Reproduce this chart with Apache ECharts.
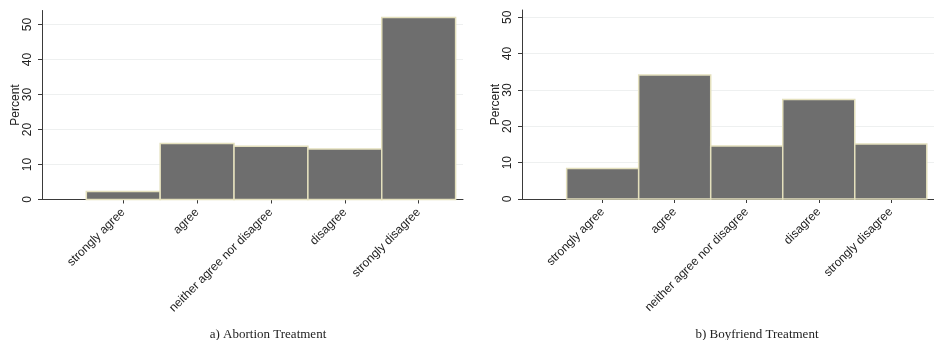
<!DOCTYPE html>
<html>
<head>
<meta charset="utf-8">
<script src="https://cdn.jsdelivr.net/npm/echarts@6/dist/echarts.min.js"></script>
<style>
  html, body { margin: 0; padding: 0; background: #fff; }
  #chart { width: 934px; height: 340px; }
</style>
</head>
<body>
<div id="chart"></div>
<script>
// answer categories, placed at x = 1..5
const categories = ['strongly agree', 'agree', 'neither agree nor disagree', 'disagree', 'strongly disagree'];
const catPos = [1, 2, 3, 4, 5];
// percent of respondents
const abortion = [2.3, 16.0, 15.2, 14.4, 52.0];
const boyfriend = [8.4, 34.1, 14.6, 27.4, 15.1];
const yTicks = [0, 10, 20, 30, 40, 50];
const panelTitles = ['a) Abortion Treatment', 'b) Boyfriend Treatment'];

const axisColor = '#3a3a3a';
const fillColor = '#6e6e6e';
const edgeColor = '#e4e0bd';

function barData(values) {
    return values.map((v, i) => [catPos[i], v]);
}

function renderBar(params, api) {
    const x = api.value(0), y = api.value(1);
    const p1 = api.coord([x - 0.5, y]);
    const p2 = api.coord([x + 0.5, 0]);
    return {
        type: 'rect',
        shape: { x: p1[0], y: p1[1], width: p2[0] - p1[0], height: p2[1] - p1[1] },
        style: { fill: fillColor, stroke: edgeColor, lineWidth: 1.5 }
    };
}

function xAxis(idx, min, max) {
    return {
        type: 'value', gridIndex: idx, min: min, max: max,
        axisLine: { show: true, onZero: false, lineStyle: { color: axisColor, width: 1 } },
        axisTick: { show: true, length: 4, customValues: catPos, lineStyle: { color: axisColor } },
        splitLine: { show: false },
        axisLabel: {
            customValues: catPos, rotate: 45, margin: 11,
            fontFamily: 'Liberation Sans, Arial, sans-serif', fontSize: 12, color: '#222',
            formatter: v => categories[Math.round(v) - 1] || ''
        }
    };
}

function yAxis(idx, max) {
    return {
        type: 'value', gridIndex: idx, min: 0, max: max,
        name: 'Percent', nameLocation: 'middle', nameGap: 20, nameMoveOverlap: false,
        nameTextStyle: { fontFamily: 'Liberation Sans, Arial, sans-serif', fontSize: 12, color: '#222' },
        axisLine: { show: true, onZero: false, lineStyle: { color: axisColor, width: 1 } },
        axisTick: { show: true, length: 4, customValues: yTicks, lineStyle: { color: axisColor } },
        splitLine: { show: true, lineStyle: { color: '#eef0f0', width: 1 } },
        axisLabel: {
            customValues: yTicks, rotate: 90, margin: 8,
            fontFamily: 'Liberation Sans, Arial, sans-serif', fontSize: 12, color: '#222'
        }
    };
}

const chart = echarts.init(document.getElementById('chart'));
chart.setOption({
    animation: false,
    backgroundColor: '#fff',
    title: [
        { text: panelTitles[0], left: 263, top: 323, textAlign: 'center',
          textStyle: { fontFamily: 'Liberation Serif, Times New Roman, serif', fontSize: 13, fontWeight: 'normal', color: '#222' } },
        { text: panelTitles[1], left: 752, top: 323, textAlign: 'center',
          textStyle: { fontFamily: 'Liberation Serif, Times New Roman, serif', fontSize: 13, fontWeight: 'normal', color: '#222' } }
    ],
    grid: [
        { left: 42, right: 471, top: 10.5, bottom: 140.5 },
        { left: 522, right: -9, top: 10, bottom: 141 }
    ],
    xAxis: [xAxis(0, -0.1, 5.6), xAxis(1, -0.12, 5.6)],
    yAxis: [yAxis(0, 54), yAxis(1, 52)],
    series: [
        { type: 'custom', xAxisIndex: 0, yAxisIndex: 0, renderItem: renderBar, data: barData(abortion) },
        { type: 'custom', xAxisIndex: 1, yAxisIndex: 1, renderItem: renderBar, data: barData(boyfriend) }
    ]
});
</script>
</body>
</html>
